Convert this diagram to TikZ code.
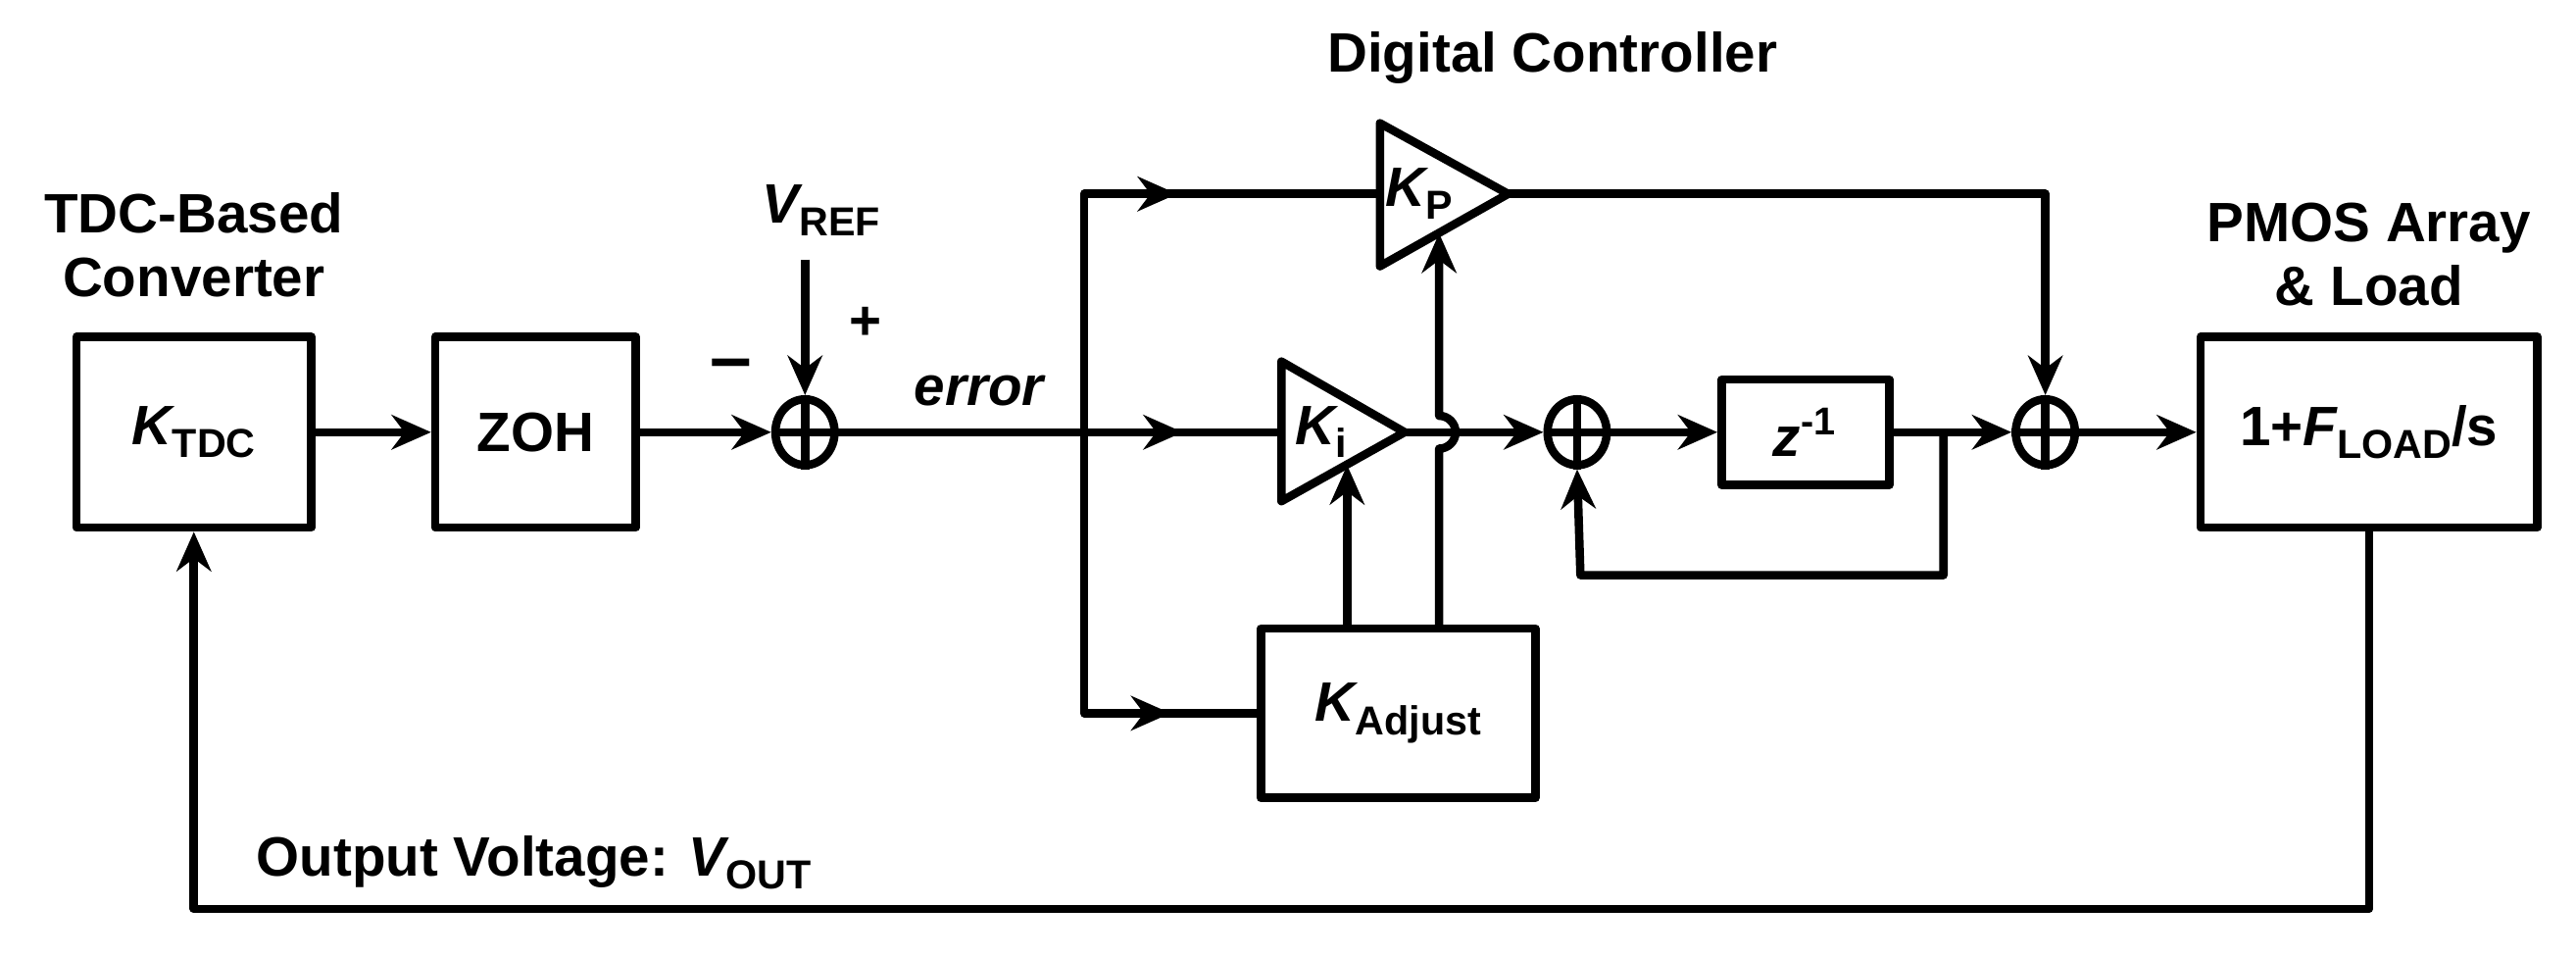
\documentclass[tikz,border=0pt]{standalone}
\usepackage{fontspec}
\setmainfont{Liberation Sans}
\usetikzlibrary{arrows.meta,decorations.markings,shapes.geometric}
\newcommand{\lsub}[1]{\raisebox{-0.45ex}{\fontsize{7}{8}\selectfont #1}}
\begin{document}
\begin{tikzpicture}[x=0.01cm,y=-0.01cm,line width=1.45pt,line join=round,
    font=\fontsize{9.6}{11}\selectfont\bfseries,
    blk/.style={draw,line width=1.45pt,inner sep=0pt},
    tip/.style={-{Stealth[length=2.4mm,width=2.1mm]}},
    mid/.style={postaction={decorate},decoration={markings,
        mark=at position #1 with {\arrow{Stealth[length=2.4mm,width=2.1mm]}}}},
    sum/.style={draw,ellipse,minimum width=0.36cm,minimum height=0.40cm,inner sep=0pt,line width=1.45pt,
        append after command={[line width=1.45pt] (\tikzlastnode.north) edge (\tikzlastnode.south)
                                                   (\tikzlastnode.west) edge (\tikzlastnode.east)}}]

  \useasboundingbox (0,0) rectangle (1568,582);

  % blocks
  \node[blk,minimum width=1.43cm,minimum height=1.16cm] (tdc) at (118,263) {{\itshape K}\lsub{TDC}};
  \node[blk,minimum width=1.22cm,minimum height=1.16cm] (zoh) at (326,263) {ZOH};
  \node[blk,minimum width=1.67cm,minimum height=1.03cm] (kadj) at (851,434) {{\itshape K}\lsub{Adjust}};
  \node[blk,minimum width=1.02cm,minimum height=0.64cm] (zinv) at (1099,263) {{\itshape z}\textsuperscript{-1}};
  \node[blk,minimum width=2.05cm,minimum height=1.16cm] (load) at (1442,263) {1+{\itshape F}\lsub{LOAD}/s};

  % summing junctions
  \node[sum] (s1) at (490,263) {};
  \node[sum] (s2) at (960,263) {};
  \node[sum] (s3) at (1245,263) {};

  % gain triangles
  \coordinate (kpin) at (840,118);
  \coordinate (kpout) at (918,118);
  \coordinate (kiin) at (780,263);
  \coordinate (kiout) at (855,263);
  \draw (840,75) -- (kpout) -- (840,162) -- cycle;
  \draw (780,220) -- (kiout) -- (780,305) -- cycle;
  \node at (864,118) {{\itshape K}\lsub{P}};
  \node at (804,263) {{\itshape K}\lsub{i}};

  % labels
  \node at (945,35) {Digital Controller};
  \node[align=center] at (118,149) {TDC-Based\\Converter};
  \node[align=center] at (1442,155) {PMOS Array\\\& Load};
  \node at (596,238) {\itshape error};
  \node (vref) at (500,128) {{\itshape V}\lsub{REF}};
  \node at (527,197) {+};
  \node at (445,226) {\fontsize{13}{13}\selectfont\bfseries --};
  \node at (325,525) {Output Voltage: {\itshape V}\lsub{OUT}};

  % forward path
  \draw[tip] (tdc) -- (zoh);
  \draw[tip] (zoh) -- (s1);
  \draw[tip] (vref.south -| s1) -- (s1);
  \coordinate (br) at (660,263);
  \draw (s1) -- (br);
  \draw[mid=0.5] (br) -- (kiin);
  \draw[mid=0.62] (br) -- (660,118) -- (kpin);
  \draw[mid=0.81] (br) -- (660,434) -- (kadj.west);

  % adjust signals
  \draw[tip] (kadj.north -| 820,0) -- (820,283);
  \draw[tip] (kadj.north -| 876,0) -- (876,273) arc[start angle=-90,end angle=90,radius=10,y radius=-10] -- (876,142);

  % integrator
  \draw[tip] (kiout) -- (s2);
  \draw[tip] (s2) -- (zinv);
  \coordinate (fb) at (1183,263);
  \draw[tip] (zinv) -- (s3);
  \draw[tip] (fb) -- (1183,350) -- (962,350) -- (s2.south);

  % proportional path
  \draw[tip] (kpout) -- (1245,118) -- (s3.north);
  \draw[tip] (s3) -- (load);

  % output feedback
  \draw[tip] (load.south) -- (1442,553) -- (118,553) -- (tdc.south);
\end{tikzpicture}
\end{document}
